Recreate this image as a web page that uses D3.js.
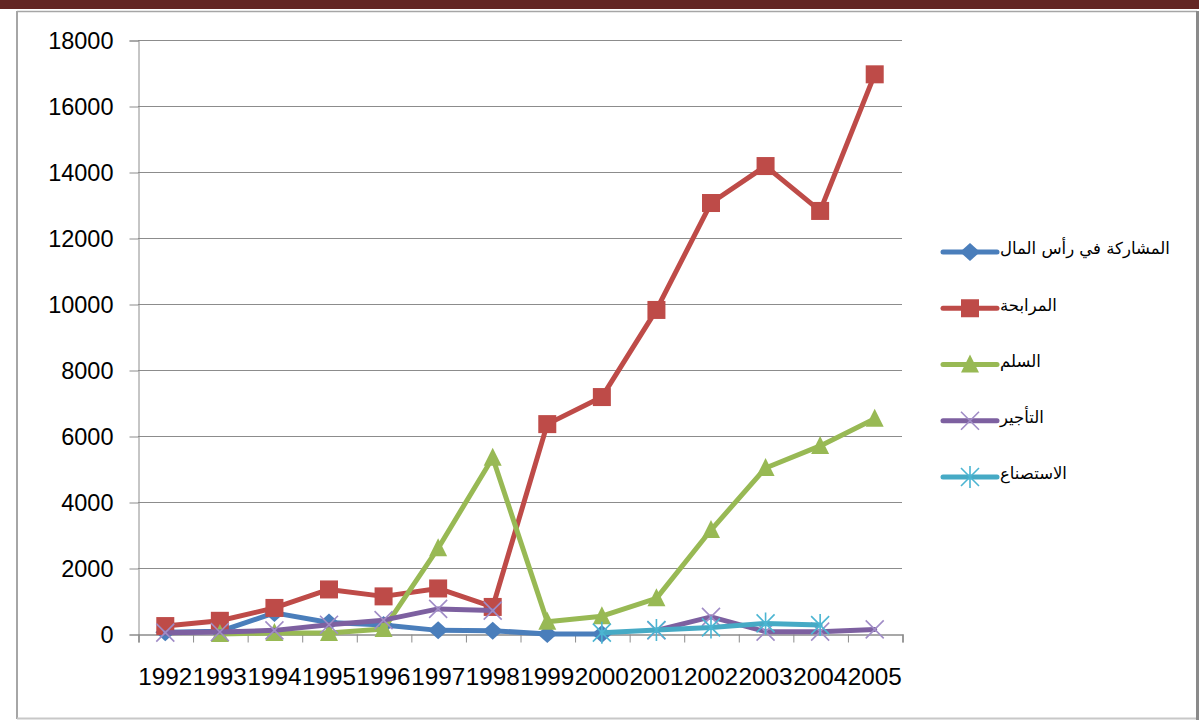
<!DOCTYPE html>
<html>
<head>
<meta charset="utf-8">
<script src="https://cdn.jsdelivr.net/npm/d3@7"></script>
<style>
  html, body { margin: 0; padding: 0; background: #fff; }
  svg { display: block; }
</style>
</head>
<body>
<svg id="chart" width="1199" height="720"></svg>
<script>
// Years on the horizontal axis
const years = ["1992","1993","1994","1995","1996","1997","1998","1999","2000","2001","2002","2003","2004","2005"];

// Series values per year (null = no value that year)
const musharaka = [50, 80, 640, 350, 270, 110, 100, 0, 0, null, null, null, null, null];
const murabaha  = [240, 400, 790, 1350, 1140, 1380, 820, 6360, 7180, 9820, 13060, 14180, 12820, 16960];
const salam     = [null, 0, 30, 30, 150, 2600, 5340, 370, 540, 1080, 3150, 5030, 5700, 6520];
const tajir     = [40, 60, 110, 280, 420, 760, 710, null, null, 110, 520, 70, 70, 140];
const istisna   = [null, null, null, null, null, null, null, null, 40, 120, 200, 320, 270, null];

// Legend names
const seriesNames = ["المشاركة في رأس المال", "المرابحة", "السلم", "التأجير", "الاستصناع"];

// Y axis tick values
const yTicks = [0, 2000, 4000, 6000, 8000, 10000, 12000, 14000, 16000, 18000];

const series = [
  { name: seriesNames[0], values: musharaka, color: "#4A7EBB", marker: "diamond" },
  { name: seriesNames[1], values: murabaha,  color: "#BE4B48", marker: "square" },
  { name: seriesNames[2], values: salam,     color: "#98B954", marker: "triangle" },
  { name: seriesNames[3], values: tajir,     color: "#7D60A0", marker: "x", markerColor: "#A08CC6" },
  { name: seriesNames[4], values: istisna,   color: "#46AAC5", marker: "star", markerColor: "#4BB5D2" }
];

const svg = d3.select("#chart");

// Top band and outer frame
svg.append("rect").attr("x", 0).attr("y", 0).attr("width", 1199).attr("height", 9).attr("fill", "#632523");
svg.append("line").attr("x1", 17).attr("x2", 1197).attr("y1", 11.5).attr("y2", 11.5).attr("stroke", "#a6a6a6").attr("stroke-width", 1.5);
svg.append("line").attr("x1", 17).attr("x2", 17).attr("y1", 11).attr("y2", 719).attr("stroke", "#a6a6a6").attr("stroke-width", 2);
svg.append("line").attr("x1", 17).attr("x2", 1197).attr("y1", 718.5).attr("y2", 718.5).attr("stroke", "#c8c8c8").attr("stroke-width", 2);
svg.append("line").attr("x1", 1197.5).attr("x2", 1197.5).attr("y1", 11).attr("y2", 720).attr("stroke", "#8a8a8a").attr("stroke-width", 3);

const plot = { left: 138, right: 902, top: 40, bottom: 634 };

const y = d3.scaleLinear().domain([0, 18000]).range([plot.bottom, plot.top]);
const xBand = d3.scaleBand().domain(years).range([plot.left, plot.right]);
const xEdge = d3.scaleLinear().domain([0, years.length]).range([plot.left, plot.right]);
const xc = i => xBand(years[i]) + xBand.bandwidth() / 2;

const axisColor = "#8c8c8c";
const fontAxis = "'Liberation Sans', Arial, sans-serif";

// Horizontal gridlines
svg.append("g").selectAll("line").data(yTicks.filter(t => t > 0)).join("line")
  .attr("x1", plot.left).attr("x2", plot.right)
  .attr("y1", d => Math.round(y(d)) + 0.5).attr("y2", d => Math.round(y(d)) + 0.5)
  .attr("stroke", axisColor).attr("stroke-width", 1);

// Y axis
const gy = svg.append("g").attr("transform", `translate(${plot.left + 0.5},0.5)`)
  .call(d3.axisLeft(y).tickValues(yTicks).tickSize(9).tickPadding(16).tickFormat(d3.format("d")));
gy.select(".domain").attr("stroke", axisColor);
gy.selectAll(".tick line").attr("stroke", axisColor);
gy.selectAll(".tick text").attr("font-family", fontAxis).attr("font-size", 23.5).attr("fill", "#000");

// X axis: boundary ticks
const gx = svg.append("g").attr("transform", `translate(0.5,${plot.bottom + 0.5})`)
  .call(d3.axisBottom(xEdge).tickValues(d3.range(years.length + 1)).tickSize(8).tickFormat(""));
gx.select(".domain").attr("stroke", axisColor).attr("stroke-width", 1.5);
gx.selectAll(".tick line").attr("stroke", axisColor);

// X axis: year labels centred in each band
const gxl = svg.append("g").attr("transform", `translate(0,${plot.bottom})`)
  .call(d3.axisBottom(xBand).tickSize(0).tickPadding(34));
gxl.select(".domain").remove();
gxl.selectAll(".tick text").attr("font-family", fontAxis).attr("font-size", 23.5).attr("fill", "#000")
  .attr("textLength", 54).attr("lengthAdjust", "spacingAndGlyphs");

// Marker drawing
function drawMarker(g, type, color, mcolor) {
  if (type === "diamond") {
    g.append("path").attr("d", "M0,-9 L10,0 L0,9 L-10,0 Z").attr("fill", color);
  } else if (type === "square") {
    g.append("rect").attr("x", -9).attr("y", -9).attr("width", 18).attr("height", 18).attr("fill", color);
  } else if (type === "triangle") {
    g.append("path").attr("d", "M0,-10 L9,8 L-9,8 Z").attr("fill", color);
  } else if (type === "x") {
    g.append("path").attr("d", "M-9,-9 L9,9 M-9,9 L9,-9").attr("stroke", mcolor).attr("stroke-width", 1.6).attr("fill", "none");
  } else if (type === "star") {
    g.append("path").attr("d", "M-9,-9 L9,9 M-9,9 L9,-9 M0,-11 L0,11").attr("stroke", mcolor).attr("stroke-width", 1.6).attr("fill", "none");
  }
}

const line = d3.line()
  .defined(d => d.v != null)
  .x(d => xc(d.i))
  .y(d => y(d.v));

// Series lines with markers, drawn in order
series.forEach(s => {
  const pts = s.values.map((v, i) => ({ v, i }));
  const g = svg.append("g");
  g.append("path").datum(pts).attr("d", line)
    .attr("fill", "none").attr("stroke", s.color).attr("stroke-width", 5)
    .attr("stroke-linejoin", "round").attr("stroke-linecap", "round");
  g.selectAll("g.m").data(pts.filter(d => d.v != null)).join("g").attr("class", "m")
    .attr("transform", d => `translate(${xc(d.i)},${y(d.v)})`)
    .each(function() { drawMarker(d3.select(this), s.marker, s.color, s.markerColor || s.color); });
});

// Legend
const legend = svg.append("g");
const legendY = d3.scaleLinear().domain([0, 4]).range([252, 477]);
series.forEach((s, i) => {
  const ly = legendY(i);
  const g = legend.append("g").attr("transform", `translate(0,${ly})`);
  g.append("line").attr("x1", 943).attr("x2", 997).attr("y1", 0).attr("y2", 0)
    .attr("stroke", s.color).attr("stroke-width", 5).attr("stroke-linecap", "round");
  const m = g.append("g").attr("transform", "translate(970,0)");
  drawMarker(m, s.marker, s.color, s.markerColor || s.color);
  g.append("text").attr("x", 1000).attr("y", 0).attr("dy", "0.15em")
    .attr("font-family", "'DejaVu Sans', sans-serif").attr("font-size", 16.5)
    .attr("text-anchor", "start").attr("fill", "#000")
    .text(s.name);
});
</script>
</body>
</html>
